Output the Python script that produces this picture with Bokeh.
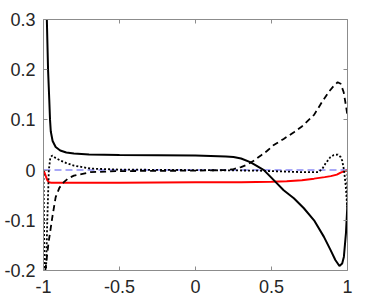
import numpy as np
from bokeh.plotting import figure
from bokeh.models import LinearAxis, FixedTicker, NumeralTickFormatter, Range1d, CustomLabelingPolicy
from bokeh.embed import file_html
from bokeh.resources import INLINE

x_ticks = [-1, -0.5, 0, 0.5, 1]
y_ticks = [-0.2, -0.1, 0, 0.1, 0.2, 0.3]

# solid black
solid_x = [-0.984, -0.978, -0.97, -0.962, -0.957, -0.952, -0.94, -0.92, -0.89, -0.85,
           -0.8, -0.7, -0.5, 0.0, 0.2, 0.25, 0.3, 0.36, 0.4, 0.45, 0.515, 0.58, 0.647,
           0.713, 0.78, 0.845, 0.888, 0.92, 0.947, 0.965, 0.976, 0.99, 1.0]
solid_y = [0.42, 0.3, 0.2, 0.14, 0.1, 0.077, 0.058, 0.046, 0.039, 0.035,
           0.033, 0.031, 0.03, 0.029, 0.027, 0.026, 0.023, 0.016, 0.009, 0.0, -0.02, -0.04, -0.056,
           -0.076, -0.1, -0.133, -0.159, -0.179, -0.191, -0.186, -0.173, -0.125, -0.065]

# dashed black
dash_x = [-0.988, -0.967, -0.94, -0.92, -0.895, -0.866, -0.84, -0.8, -0.69, -0.5,
          0.0, 0.2, 0.25, 0.3, 0.34, 0.38, 0.43, 0.47, 0.515, 0.58, 0.65, 0.7, 0.78, 0.835, 0.88, 0.91, 0.935,
          0.955, 0.975, 0.99, 1.0]
dash_y = [-0.2, -0.145, -0.09, -0.054, -0.035, -0.024, -0.017, -0.011, -0.004, -0.002,
          -0.001, 0.0, 0.002, 0.006, 0.011, 0.018, 0.029, 0.038, 0.05, 0.062, 0.076, 0.087, 0.11, 0.137, 0.157, 0.168, 0.175,
          0.172, 0.155, 0.128, 0.108]

# dotted black
dot_x = [-1.0, -0.993, -0.985, -0.975, -0.965, -0.955, -0.943, -0.92, -0.888, -0.85,
         -0.8, -0.69, -0.5, 0.0, 0.4, 0.6, 0.7, 0.757, 0.81, 0.835, 0.855, 0.888, 0.91, 0.936,
         0.955, 0.965, 0.977, 0.987, 0.993, 0.998, 1.0]
dot_y = [0.0, -0.22, -0.22, -0.1, 0.0, 0.025, 0.029, 0.024, 0.019, 0.014,
         0.009, 0.003, 0.001, 0.0, -0.001, -0.003, -0.004, -0.004, -0.004, 0.003, 0.013, 0.026, 0.03, 0.031,
         0.026, 0.019, 0.0, -0.027, -0.05, -0.074, 0.0]

# red solid
red_x = [-1.0, -0.985, -0.975, -0.965, -0.95, -0.9, -0.5, 0.0, 0.3, 0.5, 0.6, 0.7, 0.78,
         0.85, 0.89, 0.93, 0.955, 0.98, 1.0]
red_y = [0.0, -0.012, -0.02, -0.024, -0.025, -0.025, -0.025, -0.024, -0.024, -0.023, -0.022,
         -0.02, -0.017, -0.014, -0.012, -0.009, -0.005, -0.002, 0.0]

# blue dashed reference
blue_x = [-1.0, 1.0]
blue_y = [0.0, 0.0]

FONT = "Liberation Sans"
AX = "#8c8c8c"

p = figure(width=374, height=300, x_range=Range1d(-1, 1), y_range=Range1d(-0.2, 0.3),
           output_backend="svg", toolbar_location=None,
           min_border_left=43, min_border_right=27, min_border_top=19, min_border_bottom=30)
p.grid.visible = False
p.outline_line_color = None
p.background_fill_color = "white"
p.border_fill_color = "white"

above = LinearAxis()
right = LinearAxis()
p.add_layout(above, "above")
p.add_layout(right, "right")

for ax in [p.below[0], above]:
    ax.ticker = FixedTicker(ticks=x_ticks)
for ax in [p.left[0], right]:
    ax.ticker = FixedTicker(ticks=y_ticks)

for ax in [p.below[0], p.left[0], above, right]:
    ax.formatter = NumeralTickFormatter(format="0.[0]")
    ax.axis_line_color = AX
    ax.axis_line_width = 1
    ax.major_tick_line_color = AX
    ax.major_tick_in = 4
    ax.major_tick_out = 0
    ax.minor_tick_line_color = None
    ax.major_label_text_font = FONT
    ax.major_label_text_font_size = "18px"
    ax.major_label_text_color = "#262626"

for ax in [above, right]:
    ax.major_label_text_font_size = "1px"
    ax.major_label_standoff = 0
    ax.major_label_policy = CustomLabelingPolicy(code="for (const i of indices) indices.unset(i)")

p.below[0].major_label_standoff = 9
p.left[0].major_label_standoff = 8

p.line(blue_x, blue_y, line_color="#8c8cf5", line_width=1.5, line_dash="7 4")
p.line(red_x, red_y, line_color="#ff0000", line_width=2)
p.line(dot_x, dot_y, line_color="black", line_width=1.8, line_dash="2 2")
p.line(dash_x, dash_y, line_color="black", line_width=1.8, line_dash="6 4")
p.line(solid_x, solid_y, line_color="black", line_width=2)

open("out.html", "w").write(file_html(p, INLINE))
